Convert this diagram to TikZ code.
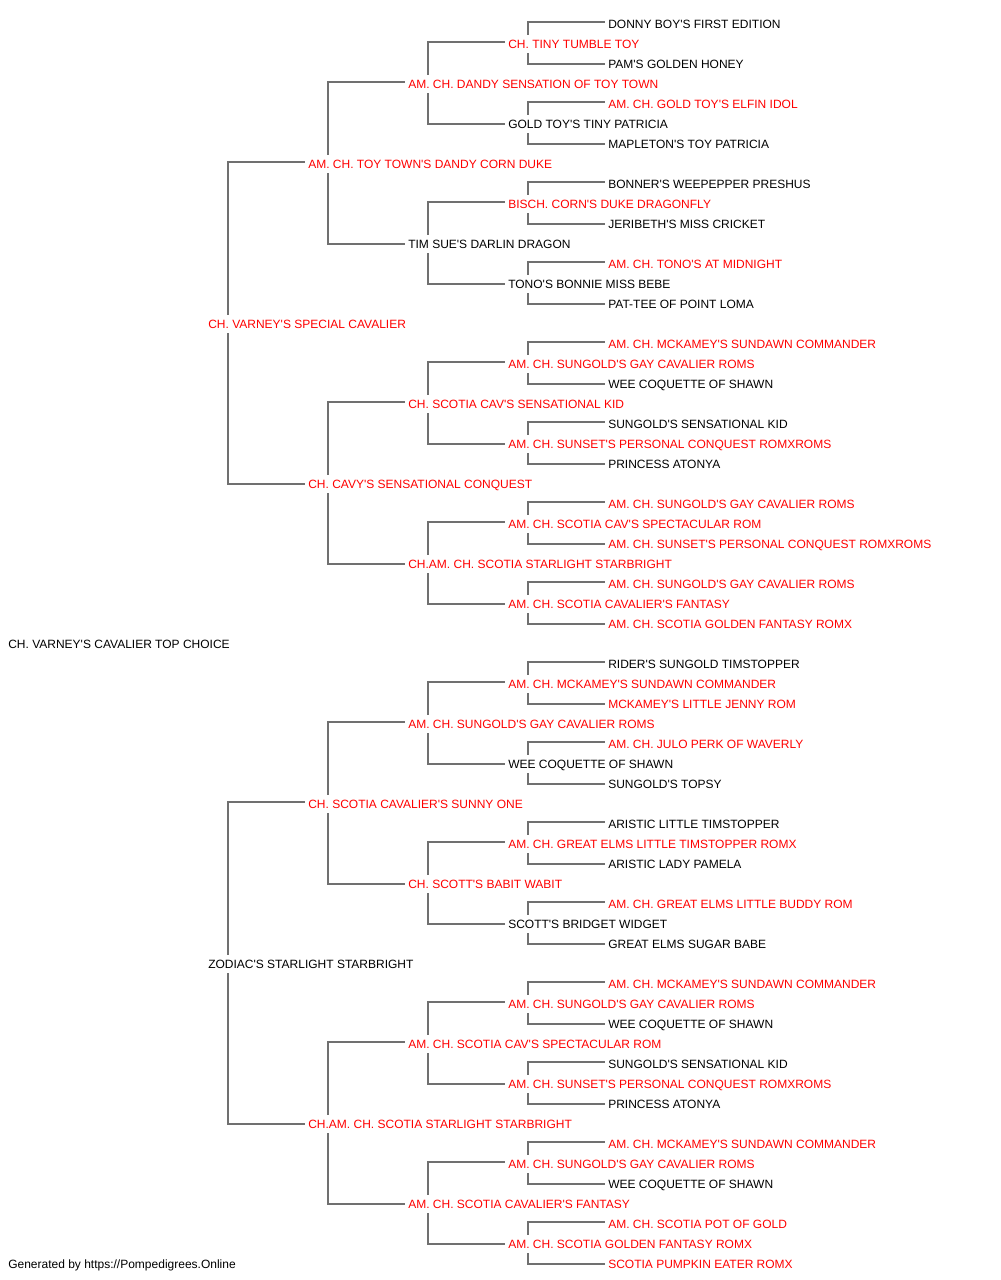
\documentclass[tikz,border=0pt]{standalone}
\usepackage{fontspec}
\setmainfont{Liberation Sans}[Ligatures=TeXOff]
\usepackage{xcolor}
\usepackage{tikz}
\definecolor{ChampRed}{HTML}{FF0000}
\definecolor{LinkGray}{HTML}{707070}
\tikzset{
  dog/.style={anchor=west, inner xsep=2.25pt, inner ysep=0pt, minimum height=13.5pt,
    text height=6.5pt, text depth=0pt, font=\fontsize{9pt}{11pt}\selectfont, text=black},
  champ/.style={dog, text=ChampRed},
  link/.style={draw=LinkGray, line width=0.9pt},
}

\begin{document}
\begin{tikzpicture}[x=0.75pt,y=-0.75pt]
        \useasboundingbox (0,-1) rectangle (1000,1279);
        % Subject
        \node[dog] (d31) at (5,643) {CH. VARNEY'S CAVALIER TOP CHOICE};
        % Parents
        \node[champ] (d15) at (205,323) {CH. VARNEY'S SPECIAL CAVALIER};
        \node[dog] (d47) at (205,963) {ZODIAC'S STARLIGHT STARBRIGHT};
        % Grandparents
        \node[champ] (d7) at (305,163) {AM. CH. TOY TOWN'S DANDY CORN DUKE};
        \node[champ] (d23) at (305,483) {CH. CAVY'S SENSATIONAL CONQUEST};
        \node[champ] (d39) at (305,803) {CH. SCOTIA CAVALIER'S SUNNY ONE};
        \node[champ] (d55) at (305,1123) {CH.AM. CH. SCOTIA STARLIGHT STARBRIGHT};
        % Great-grandparents
        \node[champ] (d3) at (405,83) {AM. CH. DANDY SENSATION OF TOY TOWN};
        \node[dog] (d11) at (405,243) {TIM SUE'S DARLIN DRAGON};
        \node[champ] (d19) at (405,403) {CH. SCOTIA CAV'S SENSATIONAL KID};
        \node[champ] (d27) at (405,563) {CH.AM. CH. SCOTIA STARLIGHT STARBRIGHT};
        \node[champ] (d35) at (405,723) {AM. CH. SUNGOLD'S GAY CAVALIER ROMS};
        \node[champ] (d43) at (405,883) {CH. SCOTT'S BABIT WABIT};
        \node[champ] (d51) at (405,1043) {AM. CH. SCOTIA CAV'S SPECTACULAR ROM};
        \node[champ] (d59) at (405,1203) {AM. CH. SCOTIA CAVALIER'S FANTASY};
        % Fourth generation
        \node[champ] (d1) at (505,43) {CH. TINY TUMBLE TOY};
        \node[dog] (d5) at (505,123) {GOLD TOY'S TINY PATRICIA};
        \node[champ] (d9) at (505,203) {BISCH. CORN'S DUKE DRAGONFLY};
        \node[dog] (d13) at (505,283) {TONO'S BONNIE MISS BEBE};
        \node[champ] (d17) at (505,363) {AM. CH. SUNGOLD'S GAY CAVALIER ROMS};
        \node[champ] (d21) at (505,443) {AM. CH. SUNSET'S PERSONAL CONQUEST ROMXROMS};
        \node[champ] (d25) at (505,523) {AM. CH. SCOTIA CAV'S SPECTACULAR ROM};
        \node[champ] (d29) at (505,603) {AM. CH. SCOTIA CAVALIER'S FANTASY};
        \node[champ] (d33) at (505,683) {AM. CH. MCKAMEY'S SUNDAWN COMMANDER};
        \node[dog] (d37) at (505,763) {WEE COQUETTE OF SHAWN};
        \node[champ] (d41) at (505,843) {AM. CH. GREAT ELMS LITTLE TIMSTOPPER ROMX};
        \node[dog] (d45) at (505,923) {SCOTT'S BRIDGET WIDGET};
        \node[champ] (d49) at (505,1003) {AM. CH. SUNGOLD'S GAY CAVALIER ROMS};
        \node[champ] (d53) at (505,1083) {AM. CH. SUNSET'S PERSONAL CONQUEST ROMXROMS};
        \node[champ] (d57) at (505,1163) {AM. CH. SUNGOLD'S GAY CAVALIER ROMS};
        \node[champ] (d61) at (505,1243) {AM. CH. SCOTIA GOLDEN FANTASY ROMX};
        % Fifth generation
        \node[dog] (d0) at (605,23) {DONNY BOY'S FIRST EDITION};
        \node[dog] (d2) at (605,63) {PAM'S GOLDEN HONEY};
        \node[champ] (d4) at (605,103) {AM. CH. GOLD TOY'S ELFIN IDOL};
        \node[dog] (d6) at (605,143) {MAPLETON'S TOY PATRICIA};
        \node[dog] (d8) at (605,183) {BONNER'S WEEPEPPER PRESHUS};
        \node[dog] (d10) at (605,223) {JERIBETH'S MISS CRICKET};
        \node[champ] (d12) at (605,263) {AM. CH. TONO'S AT MIDNIGHT};
        \node[dog] (d14) at (605,303) {PAT-TEE OF POINT LOMA};
        \node[champ] (d16) at (605,343) {AM. CH. MCKAMEY'S SUNDAWN COMMANDER};
        \node[dog] (d18) at (605,383) {WEE COQUETTE OF SHAWN};
        \node[dog] (d20) at (605,423) {SUNGOLD'S SENSATIONAL KID};
        \node[dog] (d22) at (605,463) {PRINCESS ATONYA};
        \node[champ] (d24) at (605,503) {AM. CH. SUNGOLD'S GAY CAVALIER ROMS};
        \node[champ] (d26) at (605,543) {AM. CH. SUNSET'S PERSONAL CONQUEST ROMXROMS};
        \node[champ] (d28) at (605,583) {AM. CH. SUNGOLD'S GAY CAVALIER ROMS};
        \node[champ] (d30) at (605,623) {AM. CH. SCOTIA GOLDEN FANTASY ROMX};
        \node[dog] (d32) at (605,663) {RIDER'S SUNGOLD TIMSTOPPER};
        \node[champ] (d34) at (605,703) {MCKAMEY'S LITTLE JENNY ROM};
        \node[champ] (d36) at (605,743) {AM. CH. JULO PERK OF WAVERLY};
        \node[dog] (d38) at (605,783) {SUNGOLD'S TOPSY};
        \node[dog] (d40) at (605,823) {ARISTIC LITTLE TIMSTOPPER};
        \node[dog] (d42) at (605,863) {ARISTIC LADY PAMELA};
        \node[champ] (d44) at (605,903) {AM. CH. GREAT ELMS LITTLE BUDDY ROM};
        \node[dog] (d46) at (605,943) {GREAT ELMS SUGAR BABE};
        \node[champ] (d48) at (605,983) {AM. CH. MCKAMEY'S SUNDAWN COMMANDER};
        \node[dog] (d50) at (605,1023) {WEE COQUETTE OF SHAWN};
        \node[dog] (d52) at (605,1063) {SUNGOLD'S SENSATIONAL KID};
        \node[dog] (d54) at (605,1103) {PRINCESS ATONYA};
        \node[champ] (d56) at (605,1143) {AM. CH. MCKAMEY'S SUNDAWN COMMANDER};
        \node[dog] (d58) at (605,1183) {WEE COQUETTE OF SHAWN};
        \node[champ] (d60) at (605,1223) {AM. CH. SCOTIA POT OF GOLD};
        \node[champ] (d62) at (605,1263) {SCOTIA PUMPKIN EATER ROMX};
        % Footer
        \node[dog] (credit) at (5,1263) {Generated by https://Pompedigrees.Online};
        % Sire and dam links
        \foreach \o in {1,2,4,8}{
          \pgfmathtruncatemacro\first{2*\o-1}
          \pgfmathtruncatemacro\second{6*\o-1}
          \foreach \r in {\first,\second,...,62}{
            \pgfmathtruncatemacro\sire{\r-\o}
            \pgfmathtruncatemacro\dam{\r+\o}
            \draw[link] ([xshift=17.25pt]d\r.north west) |- ([yshift=1.5pt]d\sire.west);
            \draw[link] ([xshift=17.25pt]d\r.south west) |- (d\dam.west);
          }
        }
      \end{tikzpicture}
\end{document}
